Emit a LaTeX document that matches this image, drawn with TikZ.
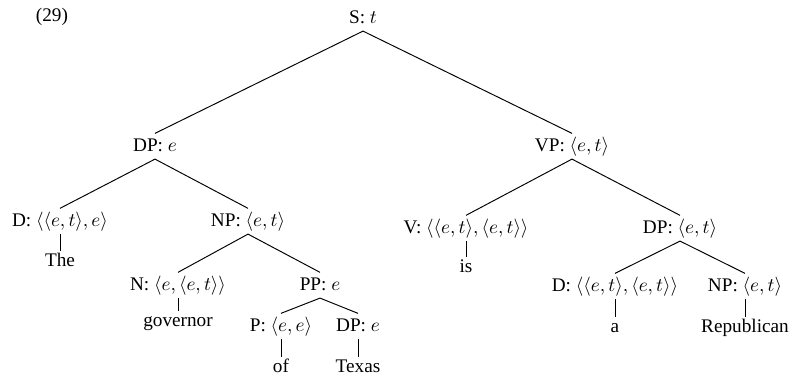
\documentclass[tikz,border=0pt]{standalone}
\usepackage{fontspec}
\setmainfont{Liberation Serif}

\tikzset{
  lbl/.style={inner sep=1.5pt, text height=8pt, text depth=2pt, anchor=base},
  leaf/.style={lbl, text height=6.5pt},
  branch/.style={line width=0.5pt}
}

\begin{document}
\begin{tikzpicture}[x=0.52pt, y=-0.52pt]
    \useasboundingbox (0,0) rectangle (795,380);
    \node[anchor=base] (ex) at (52,22) {(29)};

    % root
    \node[lbl] (S) at (363,24) {S: $t$};

    % subject side
    \node[lbl] (DPs) at (155,152) {DP: $e$};
    \node[lbl] (Ds) at (60,227) {D: $\langle\langle e,t\rangle,e\rangle$};
    \node[lbl] (NPs) at (248,227) {NP: $\langle e,t\rangle$};
    \node[leaf] (the) at (60,267) {The};
    \node[lbl] (N) at (178,291) {N: $\langle e,\langle e,t\rangle\rangle$};
    \node[lbl] (PP) at (320,291) {PP: $e$};
    \node[leaf] (gov) at (178,327) {governor};
    \node[lbl] (P) at (281,332) {P: $\langle e,e\rangle$};
    \node[lbl] (DPt) at (358,332) {DP: $e$};
    \node[leaf] (of) at (281,373) {of};
    \node[leaf] (tex) at (358,373) {Texas};

    % predicate side
    \node[lbl] (VP) at (572,152) {VP: $\langle e,t\rangle$};
    \node[lbl] (V) at (466,234) {V: $\langle\langle e,t\rangle,\langle e,t\rangle\rangle$};
    \node[lbl] (DPo) at (680,234) {DP: $\langle e,t\rangle$};
    \node[leaf] (is) at (466,273) {is};
    \node[lbl] (Do) at (615,292) {D: $\langle\langle e,t\rangle,\langle e,t\rangle\rangle$};
    \node[lbl] (NPo) at (745,292) {NP: $\langle e,t\rangle$};
    \node[leaf] (a) at (615,333) {a};
    \node[leaf] (rep) at (745,333) {Republican};

    % branches
    \draw[branch] (S.south) -- (DPs.north);
    \draw[branch] (S.south) -- (VP.north);
    \draw[branch] (DPs.south) -- (Ds.north);
    \draw[branch] (DPs.south) -- (NPs.north);
    \draw[branch] (Ds.south) -- (the.north);
    \draw[branch] (NPs.south) -- (N.north);
    \draw[branch] (NPs.south) -- (PP.north);
    \draw[branch] (N.south) -- (gov.north);
    \draw[branch] (PP.south) -- (P.north);
    \draw[branch] (PP.south) -- (DPt.north);
    \draw[branch] (P.south) -- (of.north);
    \draw[branch] (DPt.south) -- (tex.north);
    \draw[branch] (VP.south) -- (V.north);
    \draw[branch] (VP.south) -- (DPo.north);
    \draw[branch] (V.south) -- (is.north);
    \draw[branch] (DPo.south) -- (Do.north);
    \draw[branch] (DPo.south) -- (NPo.north);
    \draw[branch] (Do.south) -- (a.north);
    \draw[branch] (NPo.south) -- (rep.north);
\end{tikzpicture}
\end{document}
